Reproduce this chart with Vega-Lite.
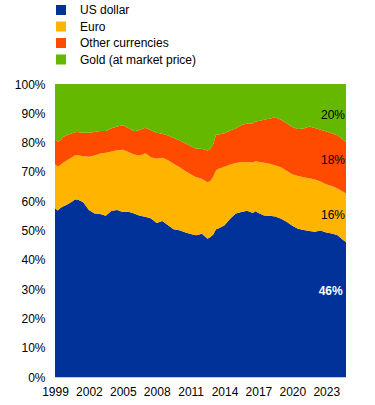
{
  "$schema": "https://vega.github.io/schema/vega-lite/v6.json",
  "width": 291,
  "height": 293,
  "autosize": {"type": "none"},
  "padding": {"left": 55, "top": 84, "right": 29, "bottom": 28},
  "background": "white",
  "config": {"view": {"stroke": null}, "font": "Liberation Sans"},
  "datasets": {
    "order": [
      {"s": "u", "k": 1, "name": "US dollar"},
      {"s": "e", "k": 2, "name": "Euro"},
      {"s": "o", "k": 3, "name": "Other currencies"},
      {"s": "g", "k": 4, "name": "Gold (at market price)"}
    ],
    "shares": [
      {"d": "1999-01-01", "u": 57.6, "e": 15.0, "o": 8.8, "g": 18.6},
      {"d": "1999-04-01", "u": 56.8, "e": 15.0, "o": 8.5, "g": 19.7},
      {"d": "1999-07-01", "u": 57.8, "e": 14.6, "o": 8.4, "g": 19.2},
      {"d": "1999-10-01", "u": 58.3, "e": 14.9, "o": 8.8, "g": 18.0},
      {"d": "2000-01-01", "u": 58.7, "e": 15.1, "o": 8.6, "g": 17.6},
      {"d": "2000-07-01", "u": 59.8, "e": 15.2, "o": 8.2, "g": 16.8},
      {"d": "2000-10-01", "u": 60.6, "e": 15.0, "o": 7.9, "g": 16.5},
      {"d": "2001-01-01", "u": 60.6, "e": 15.1, "o": 7.9, "g": 16.4},
      {"d": "2001-07-01", "u": 59.6, "e": 15.7, "o": 8.1, "g": 16.6},
      {"d": "2002-01-01", "u": 57.0, "e": 18.2, "o": 8.2, "g": 16.6},
      {"d": "2002-07-01", "u": 55.8, "e": 19.8, "o": 8.0, "g": 16.4},
      {"d": "2003-01-01", "u": 55.6, "e": 20.7, "o": 7.7, "g": 16.0},
      {"d": "2003-07-01", "u": 55.0, "e": 21.5, "o": 7.5, "g": 16.0},
      {"d": "2004-01-01", "u": 56.7, "e": 20.3, "o": 7.9, "g": 15.1},
      {"d": "2004-07-01", "u": 57.0, "e": 20.4, "o": 8.1, "g": 14.5},
      {"d": "2005-01-01", "u": 56.3, "e": 21.3, "o": 8.3, "g": 14.1},
      {"d": "2005-07-01", "u": 56.4, "e": 20.4, "o": 8.2, "g": 15.0},
      {"d": "2006-01-01", "u": 55.8, "e": 20.1, "o": 8.0, "g": 16.1},
      {"d": "2006-07-01", "u": 55.0, "e": 20.6, "o": 8.7, "g": 15.7},
      {"d": "2007-01-01", "u": 54.7, "e": 21.7, "o": 8.7, "g": 14.9},
      {"d": "2007-07-01", "u": 54.1, "e": 20.9, "o": 9.2, "g": 15.8},
      {"d": "2008-01-01", "u": 52.6, "e": 21.9, "o": 8.9, "g": 16.6},
      {"d": "2008-07-01", "u": 53.2, "e": 21.6, "o": 8.2, "g": 17.0},
      {"d": "2009-01-01", "u": 51.8, "e": 22.2, "o": 8.4, "g": 17.6},
      {"d": "2009-07-01", "u": 50.4, "e": 22.4, "o": 8.8, "g": 18.4},
      {"d": "2010-01-01", "u": 50.1, "e": 21.6, "o": 9.1, "g": 19.2},
      {"d": "2010-07-01", "u": 49.4, "e": 21.0, "o": 9.4, "g": 20.2},
      {"d": "2011-01-01", "u": 48.8, "e": 20.4, "o": 9.6, "g": 21.2},
      {"d": "2011-07-01", "u": 48.4, "e": 19.8, "o": 9.7, "g": 22.1},
      {"d": "2012-01-01", "u": 48.9, "e": 18.8, "o": 10.2, "g": 22.1},
      {"d": "2012-07-01", "u": 47.2, "e": 19.3, "o": 10.8, "g": 22.7},
      {"d": "2012-10-01", "u": 47.8, "e": 19.1, "o": 10.9, "g": 22.2},
      {"d": "2013-01-01", "u": 48.6, "e": 19.8, "o": 11.1, "g": 20.5},
      {"d": "2013-04-01", "u": 50.4, "e": 20.2, "o": 12.1, "g": 17.3},
      {"d": "2013-07-01", "u": 50.8, "e": 20.3, "o": 11.7, "g": 17.2},
      {"d": "2014-01-01", "u": 51.8, "e": 20.0, "o": 11.4, "g": 16.8},
      {"d": "2014-07-01", "u": 54.0, "e": 18.5, "o": 11.6, "g": 15.9},
      {"d": "2015-01-01", "u": 55.8, "e": 17.2, "o": 11.8, "g": 15.2},
      {"d": "2015-07-01", "u": 56.3, "e": 17.1, "o": 12.6, "g": 14.0},
      {"d": "2016-01-01", "u": 56.7, "e": 16.7, "o": 13.1, "g": 13.5},
      {"d": "2016-07-01", "u": 56.0, "e": 17.2, "o": 13.4, "g": 13.4},
      {"d": "2016-10-01", "u": 56.6, "e": 17.0, "o": 13.6, "g": 12.8},
      {"d": "2017-01-01", "u": 56.0, "e": 17.5, "o": 13.9, "g": 12.6},
      {"d": "2017-07-01", "u": 55.1, "e": 18.0, "o": 14.7, "g": 12.2},
      {"d": "2018-01-01", "u": 55.0, "e": 17.8, "o": 15.4, "g": 11.8},
      {"d": "2018-07-01", "u": 54.8, "e": 17.4, "o": 16.4, "g": 11.4},
      {"d": "2019-01-01", "u": 54.0, "e": 17.6, "o": 16.2, "g": 12.2},
      {"d": "2019-07-01", "u": 53.0, "e": 17.4, "o": 16.2, "g": 13.4},
      {"d": "2020-01-01", "u": 51.6, "e": 17.6, "o": 16.1, "g": 14.7},
      {"d": "2020-07-01", "u": 50.6, "e": 18.0, "o": 16.0, "g": 15.4},
      {"d": "2021-01-01", "u": 50.2, "e": 18.0, "o": 16.6, "g": 15.2},
      {"d": "2021-07-01", "u": 49.8, "e": 18.0, "o": 17.7, "g": 14.5},
      {"d": "2022-01-01", "u": 49.6, "e": 17.8, "o": 17.6, "g": 15.0},
      {"d": "2022-07-01", "u": 50.0, "e": 16.7, "o": 17.7, "g": 15.6},
      {"d": "2023-01-01", "u": 49.3, "e": 16.5, "o": 18.0, "g": 16.2},
      {"d": "2023-07-01", "u": 49.0, "e": 16.2, "o": 18.0, "g": 16.8},
      {"d": "2024-01-01", "u": 48.4, "e": 15.9, "o": 18.2, "g": 17.5},
      {"d": "2024-07-01", "u": 46.8, "e": 16.4, "o": 17.8, "g": 19.0},
      {"d": "2024-10-01", "u": 46.1, "e": 16.5, "o": 17.6, "g": 19.8}
    ]
  },
  "encoding": {
    "x": {
      "field": "d",
      "type": "temporal",
      "scale": {"type": "utc", "domain": [{"year": 1999, "month": 1, "date": 1, "utc": true}, {"year": 2024, "month": 10, "date": 1, "utc": true}], "nice": false},
      "axis": {
        "values": [
          {"year": 1999, "utc": true}, {"year": 2002, "utc": true}, {"year": 2005, "utc": true},
          {"year": 2008, "utc": true}, {"year": 2011, "utc": true}, {"year": 2014, "utc": true},
          {"year": 2017, "utc": true}, {"year": 2020, "utc": true}, {"year": 2023, "utc": true}
        ],
        "format": "%Y",
        "title": null,
        "ticks": false,
        "grid": false,
        "labelPadding": 9,
        "labelFontSize": 12,
        "labelColor": "#000000",
        "domainColor": "#c8c8c8",
        "labelOverlap": false,
        "labelFlush": false
      }
    },
    "y": {
      "field": "v",
      "type": "quantitative",
      "scale": {"domain": [0, 100], "nice": false},
      "axis": {
        "values": [0, 10, 20, 30, 40, 50, 60, 70, 80, 90, 100],
        "labelExpr": "datum.value + '%'",
        "title": null,
        "ticks": false,
        "grid": false,
        "labelPadding": 10,
        "labelFontSize": 12,
        "labelColor": "#000000",
        "domainColor": "#c8c8c8"
      }
    }
  },
  "layer": [
    {
      "data": {"name": "shares"},
      "transform": [
        {"fold": ["u", "e", "o", "g"], "as": ["s", "v"]},
        {"lookup": "s", "from": {"data": {"name": "order"}, "key": "s", "fields": ["k", "name"]}}
      ],
      "mark": {"type": "area", "interpolate": "linear"},
      "encoding": {
        "color": {
          "field": "name",
          "type": "nominal",
          "scale": {
            "domain": ["US dollar", "Euro", "Other currencies", "Gold (at market price)"],
            "range": ["#003299", "#ffb400", "#ff4b00", "#65b800"]
          },
          "legend": {
            "orient": "none",
            "legendX": 0,
            "legendY": -80,
            "title": null,
            "symbolType": "square",
            "symbolSize": 100,
            "symbolStrokeWidth": 0,
            "symbolOpacity": 1,
            "labelFontSize": 12,
            "labelColor": "#000000",
            "labelOffset": 13,
            "rowPadding": 4.5,
            "padding": 0
          }
        },
        "order": {"field": "k", "type": "quantitative"}
      }
    },
    {
      "data": {"values": [
        {"d": "2023-08-08", "v": 89.3, "t": "20%"},
        {"d": "2023-08-08", "v": 74.0, "t": "18%"},
        {"d": "2023-08-08", "v": 55.4, "t": "16%"}
      ]},
      "mark": {"type": "text", "fontSize": 12, "color": "#000000", "align": "center", "baseline": "middle"},
      "encoding": {
        "text": {"field": "t"}
      }
    },
    {
      "data": {"values": [
        {"d": "2023-05-26", "v": 29.35, "t": "46%"}
      ]},
      "mark": {"type": "text", "fontSize": 12, "fontWeight": "bold", "color": "#ffffff", "align": "center", "baseline": "middle"},
      "encoding": {
        "text": {"field": "t"}
      }
    }
  ]
}
